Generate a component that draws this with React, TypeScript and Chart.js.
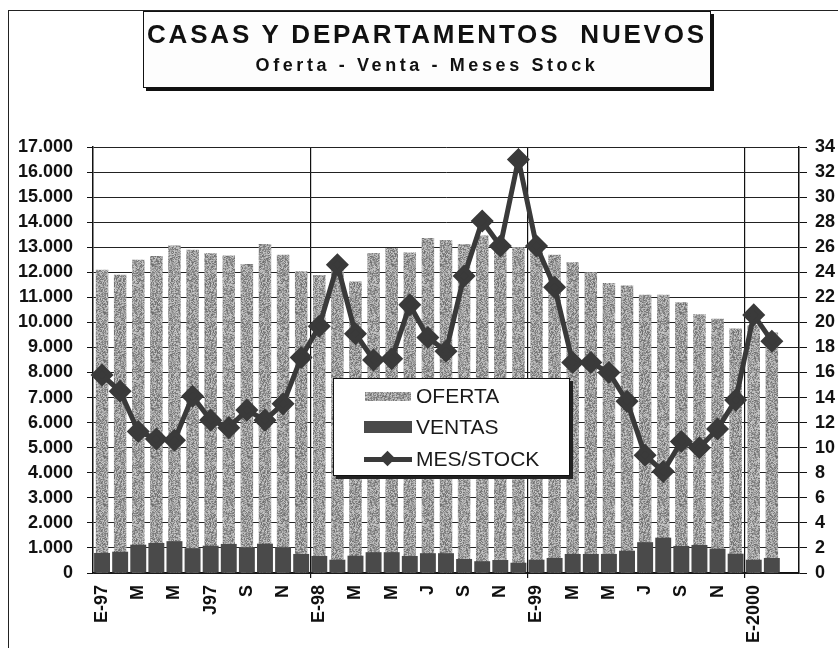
import React, { useEffect, useRef } from 'react';
import { Chart, registerables } from 'chart.js';

Chart.register(...registerables);

// 39 monthly categories (Jan-97 .. Mar-2000); last one empty
const tickLabels = [
  'E-97', '', 'M', '', 'M', '', 'J97', '', 'S', '', 'N', '',
  'E-98', '', 'M', '', 'M', '', 'J', '', 'S', '', 'N', '',
  'E-99', '', 'M', '', 'M', '', 'J', '', 'S', '', 'N', '',
  'E-2000', '', '',
];

const oferta = [
  12100, 11900, 12500, 12650, 13070, 12900, 12760, 12670, 12330, 13130, 12700, 12040,
  11890, 12300, 11630, 12770, 12970, 12790, 13370, 13290, 13130, 13470, 13000, 13000,
  12900, 12700, 12400, 12000, 11570, 11470, 11100, 11100, 10800, 10330, 10150, 9760,
  9900, 9600, null,
];

const ventas = [
  800, 850, 1130, 1200, 1270, 990, 1090, 1160, 1030, 1170, 1030, 760,
  680, 530, 690, 830, 830, 680, 790, 790, 560, 470, 520, 410,
  530, 600, 760, 760, 760, 890, 1230, 1410, 1080, 1120, 970, 770,
  530, 600, null,
];

const mesStock = [
  15.8, 14.5, 11.3, 10.7, 10.6, 14.1, 12.2, 11.6, 13.0, 12.2, 13.5, 17.2,
  19.7, 24.6, 19.1, 17.0, 17.1, 21.4, 18.8, 17.7, 23.7, 28.1, 26.1, 33.0,
  26.1, 22.8, 16.8, 16.8, 16.0, 13.7, 9.4, 8.1, 10.5, 10.0, 11.5, 13.8,
  20.6, 18.5, null,
];

const FONT = "'Liberation Sans', Arial, Helvetica, sans-serif";
const LINE_COLOR = '#3a3a3a';
const VENTAS_COLOR = '#4a4a4a';

function hash(n: number) {
  const x = Math.sin(n * 12.9898 + 78.233) * 43758.5453;
  return x - Math.floor(x);
}

function makeSpeckleCanvas(): HTMLCanvasElement {
  const c = document.createElement('canvas');
  c.width = 48;
  c.height = 48;
  const ctx = c.getContext('2d')!;
  const img = ctx.createImageData(48, 48);
  for (let i = 0; i < 48 * 48; i++) {
    const v = Math.round(108 + hash(i) * 95);
    img.data[i * 4] = v;
    img.data[i * 4 + 1] = v;
    img.data[i * 4 + 2] = v;
    img.data[i * 4 + 3] = 255;
  }
  ctx.putImageData(img, 0, 0);
  return c;
}

export default function App() {
  const canvasRef = useRef<HTMLCanvasElement>(null);
  const swatchRef = useRef<HTMLDivElement>(null);

  useEffect(() => {
    const canvas = canvasRef.current!;
    const speckle = makeSpeckleCanvas();
    const pattern = canvas.getContext('2d')!.createPattern(speckle, 'repeat')!;
    if (swatchRef.current) {
      swatchRef.current.style.backgroundImage = `url(${speckle.toDataURL()})`;
    }

    const yearLine = (ctx: any) =>
      ctx.index > 0 && ctx.index % 12 === 0 ? '#111' : 'rgba(0,0,0,0)';

    const chart = new Chart(canvas, {
      data: {
        labels: tickLabels,
        datasets: [
          {
            type: 'line',
            label: 'MES/STOCK',
            data: mesStock,
            yAxisID: 'y1',
            borderColor: LINE_COLOR,
            backgroundColor: LINE_COLOR,
            borderWidth: 5,
            pointStyle: 'rectRot',
            pointRadius: 8,
            pointBackgroundColor: LINE_COLOR,
            pointBorderColor: LINE_COLOR,
            tension: 0,
            order: 1,
          } as any,
          {
            type: 'bar',
            label: 'VENTAS',
            data: ventas,
            yAxisID: 'y',
            backgroundColor: VENTAS_COLOR,
            barPercentage: 0.88,
            categoryPercentage: 1,
            grouped: false,
            order: 2,
          } as any,
          {
            type: 'bar',
            label: 'OFERTA',
            data: oferta,
            yAxisID: 'y',
            backgroundColor: pattern,
            barPercentage: 0.69,
            categoryPercentage: 1,
            grouped: false,
            order: 3,
          } as any,
        ],
      },
      options: {
        responsive: false,
        maintainAspectRatio: false,
        animation: false,
        layout: { padding: { top: 147, left: 0, right: 0, bottom: 0 } },
        plugins: {
          legend: { display: false },
          title: { display: false },
          tooltip: { enabled: false },
        },
        scales: {
          x: {
            type: 'category',
            offset: true,
            grid: {
              offset: true,
              color: yearLine,
              tickColor: yearLine,
              lineWidth: 1.2,
              tickLength: 5,
            },
            border: { display: true, color: '#111', width: 1.5 },
            ticks: {
              autoSkip: false,
              maxRotation: 90,
              minRotation: 90,
              padding: 7,
              color: '#111',
              font: { family: FONT, size: 18, weight: 'bold' },
            },
            afterFit: (s: any) => {
              s.height = 75;
            },
          },
          y: {
            position: 'left',
            min: 0,
            max: 17000,
            grid: {
              color: '#222',
              lineWidth: 1,
              tickLength: 6,
              tickColor: '#111',
            },
            border: { display: true, color: '#111', width: 1.5 },
            ticks: {
              stepSize: 1000,
              padding: 14,
              color: '#111',
              font: { family: FONT, size: 18, weight: 'bold' },
              callback: (v: any) => String(v).replace(/\B(?=(\d{3})+(?!\d))/g, '.'),
            },
            afterFit: (s: any) => {
              s.width = 93;
            },
          },
          y1: {
            position: 'right',
            min: 0,
            max: 34,
            grid: {
              drawOnChartArea: false,
              tickLength: 8,
              tickColor: '#111',
            },
            border: { display: true, color: '#111', width: 1.5 },
            ticks: {
              stepSize: 2,
              padding: 8,
              color: '#111',
              font: { family: FONT, size: 18, weight: 'bold' },
            },
            afterFit: (s: any) => {
              s.width = 39;
            },
          },
        },
      } as any,
    });

    return () => chart.destroy();
  }, []);

  const legendText: React.CSSProperties = {
    position: 'absolute',
    left: 82,
    fontFamily: FONT,
    fontSize: 21,
    color: '#1a1a1a',
    lineHeight: '24px',
    whiteSpace: 'nowrap',
  };

  return (
    <div
      style={{
        position: 'absolute',
        left: 0,
        top: 0,
        width: 838,
        height: 648,
        overflow: 'hidden',
        background: '#fff',
      }}
    >
      <canvas
        ref={canvasRef}
        width={838}
        height={648}
        style={{ position: 'absolute', left: 0, top: 0, width: 838, height: 648 }}
      />
      {/* outer frame */}
      <div
        style={{
          position: 'absolute',
          left: 8,
          top: 10,
          width: 900,
          height: 700,
          borderLeft: '1.5px solid #222',
          borderTop: '1.5px solid #222',
          pointerEvents: 'none',
        }}
      />
      {/* title box */}
      <div
        style={{
          position: 'absolute',
          left: 143,
          top: 11,
          width: 566,
          height: 75,
          border: '1px solid #111',
          boxShadow: '3px 3px 0 #111',
          background: '#fdfdfd',
          fontFamily: FONT,
          color: '#111',
          textAlign: 'center',
        }}
      >
        <div
          style={{
            position: 'absolute',
            left: 0,
            right: 0,
            top: 7,
            fontSize: 26,
            fontWeight: 'bold',
            letterSpacing: 2.8,
            lineHeight: '30px',
            whiteSpace: 'pre',
          }}
        >
          {'CASAS Y DEPARTAMENTOS  NUEVOS'}
        </div>
        <div
          style={{
            position: 'absolute',
            left: 0,
            right: 0,
            top: 42,
            fontSize: 18,
            fontWeight: 'bold',
            letterSpacing: 3.6,
            lineHeight: '22px',
            whiteSpace: 'pre',
          }}
        >
          {'Oferta - Venta - Meses Stock'}
        </div>
      </div>
      {/* legend */}
      <div
        style={{
          position: 'absolute',
          left: 333,
          top: 378,
          width: 235,
          height: 96,
          border: '1px solid #111',
          boxShadow: '3px 3px 0 #222',
          background: '#fff',
        }}
      >
        <div
          ref={swatchRef}
          style={{
            position: 'absolute',
            left: 31,
            top: 13,
            width: 46,
            height: 9,
            background: '#999',
          }}
        />
        <div style={{ ...legendText, top: 5 }}>OFERTA</div>
        <div
          style={{
            position: 'absolute',
            left: 30,
            top: 42,
            width: 48,
            height: 12,
            background: VENTAS_COLOR,
          }}
        />
        <div style={{ ...legendText, top: 36 }}>VENTAS</div>
        <div
          style={{
            position: 'absolute',
            left: 30,
            top: 78,
            width: 48,
            height: 5,
            background: LINE_COLOR,
          }}
        />
        <div
          style={{
            position: 'absolute',
            left: 48,
            top: 74,
            width: 11,
            height: 11,
            background: LINE_COLOR,
            transform: 'rotate(45deg)',
          }}
        />
        <div style={{ ...legendText, top: 68 }}>MES/STOCK</div>
      </div>
    </div>
  );
}
